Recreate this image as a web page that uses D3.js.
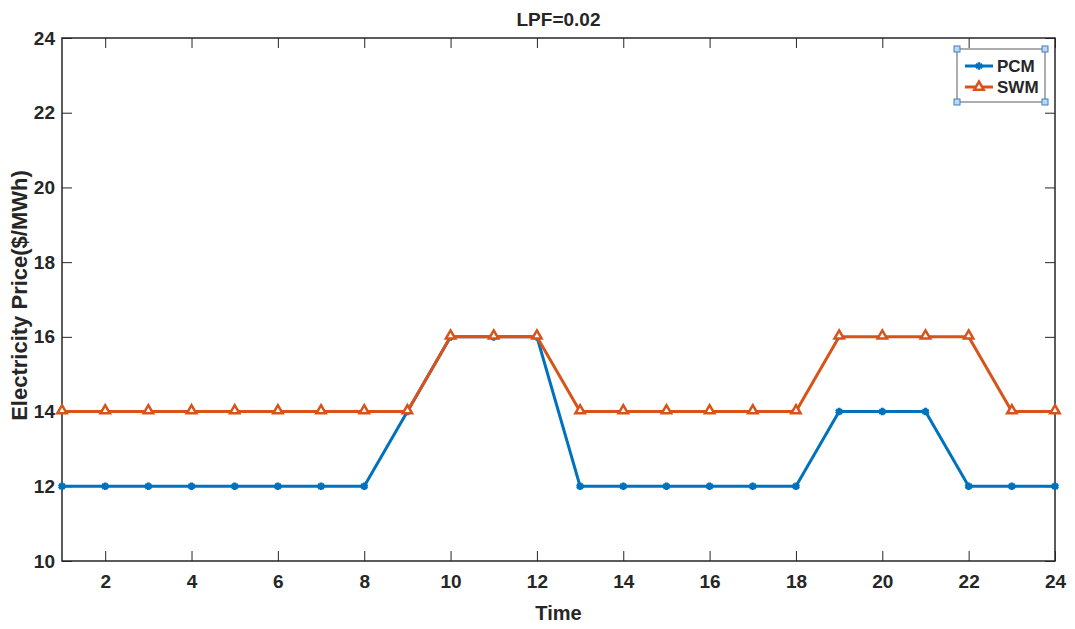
<!DOCTYPE html>
<html>
<head>
<meta charset="utf-8">
<script src="https://cdn.jsdelivr.net/npm/d3@7"></script>
<style>
  body { margin: 0; background: #fff; }
  text { font-family: "Liberation Sans", Arial, sans-serif; font-weight: bold; fill: #262626; }
</style>
</head>
<body>
<svg id="chart" width="1075" height="629"></svg>
<script>
// hours and prices
var hours = d3.range(1, 25);
var pcm = [12, 12, 12, 12, 12, 12, 12, 12, 14, 16, 16, 16, 12, 12, 12, 12, 12, 12, 14, 14, 14, 12, 12, 12];
var swm = [14, 14, 14, 14, 14, 14, 14, 14, 14, 16, 16, 16, 14, 14, 14, 14, 14, 14, 16, 16, 16, 16, 14, 14];
var xTicks = [2, 4, 6, 8, 10, 12, 14, 16, 18, 20, 22, 24];
var yTicks = [10, 12, 14, 16, 18, 20, 22, 24];

var svg = d3.select("#chart"),
    margin = {top: 38, right: 20, bottom: 68, left: 62},
    width = +svg.attr("width") - margin.left - margin.right,
    height = +svg.attr("height") - margin.top - margin.bottom;

var x = d3.scaleLinear().domain([1, 24]).range([0, width]),
    y = d3.scaleLinear().domain([10, 24]).range([height, 0]);

var g = svg.append("g")
    .attr("transform", "translate(" + margin.left + "," + margin.top + ")");

// axes with inward ticks, box style
function styleAxis(sel) {
  sel.select(".domain").remove();
  sel.selectAll(".tick line").attr("stroke", "#262626");
  sel.selectAll(".tick text").style("font-size", "19px").attr("fill", "#262626");
}

g.append("g")
    .attr("transform", "translate(0," + height + ")")
    .call(d3.axisBottom(x).tickValues(xTicks).tickSizeInner(-10).tickPadding(14).tickFormat(d3.format("d")))
    .call(styleAxis);

g.append("g")
    .call(d3.axisTop(x).tickValues(xTicks).tickSizeInner(-10).tickFormat(""))
    .call(styleAxis);

g.append("g")
    .call(d3.axisLeft(y).tickValues(yTicks).tickSizeInner(-10).tickPadding(7).tickFormat(d3.format("d")))
    .call(styleAxis);

g.append("g")
    .attr("transform", "translate(" + width + ",0)")
    .call(d3.axisRight(y).tickValues(yTicks).tickSizeInner(-10).tickFormat(""))
    .call(styleAxis);

g.append("rect")
    .attr("width", width)
    .attr("height", height)
    .attr("fill", "none")
    .attr("stroke", "#262626")
    .attr("stroke-width", 1.5);

var line = d3.line()
    .x(function(d, i) { return x(hours[i]); })
    .y(function(d) { return y(d); });

var blue = "#0072BD", orange = "#D95319";

// PCM line + star markers
g.append("path")
    .datum(pcm)
    .attr("d", line)
    .attr("fill", "none")
    .attr("stroke", blue)
    .attr("stroke-width", 3);

var star = d3.symbol().type(d3.symbolAsterisk).size(40);
g.selectAll(".pcm-pt")
  .data(pcm)
  .enter().append("path")
    .attr("class", "pcm-pt")
    .attr("transform", function(d, i) { return "translate(" + x(hours[i]) + "," + y(d) + ")"; })
    .attr("d", star)
    .attr("fill", "none")
    .attr("stroke", blue)
    .attr("stroke-width", 3);

// SWM line + triangle markers
g.append("path")
    .datum(swm)
    .attr("d", line)
    .attr("fill", "none")
    .attr("stroke", orange)
    .attr("stroke-width", 3);

var tri = d3.symbol().type(d3.symbolTriangle).size(38);
g.selectAll(".swm-pt")
  .data(swm)
  .enter().append("path")
    .attr("class", "swm-pt")
    .attr("transform", function(d, i) { return "translate(" + x(hours[i]) + "," + (y(d) - 1) + ")"; })
    .attr("d", tri)
    .attr("fill", "#fff")
    .attr("stroke", orange)
    .attr("stroke-width", 2.5);

// title and axis labels
svg.append("text")
    .attr("x", margin.left + width / 2)
    .attr("y", 26)
    .attr("text-anchor", "middle")
    .style("font-size", "19px")
    .text("LPF=0.02");

svg.append("text")
    .attr("x", margin.left + width / 2)
    .attr("y", 620)
    .attr("text-anchor", "middle")
    .style("font-size", "20px")
    .text("Time");

svg.append("text")
    .attr("transform", "translate(27," + (margin.top + height / 2 - 4) + ") rotate(-90)")
    .attr("text-anchor", "middle")
    .style("font-size", "22px")
    .text("Electricity Price($/MWh)");

// legend
var legend = svg.append("g").attr("transform", "translate(957,49)");
legend.append("rect")
    .attr("width", 88)
    .attr("height", 53)
    .attr("fill", "#fff")
    .attr("stroke", "#777")
    .attr("stroke-width", 1.2);

var items = [
  {name: "PCM", color: blue, sym: star, fill: "none"},
  {name: "SWM", color: orange, sym: tri, fill: "#fff"}
];
items.forEach(function(it, i) {
  var yy = 17 + i * 21;
  legend.append("line")
      .attr("x1", 8).attr("x2", 36)
      .attr("y1", yy).attr("y2", yy)
      .attr("stroke", it.color)
      .attr("stroke-width", 3);
  legend.append("path")
      .attr("transform", "translate(22," + yy + ")")
      .attr("d", it.sym)
      .attr("fill", it.fill)
      .attr("stroke", it.color)
      .attr("stroke-width", 2.5);
  legend.append("text")
      .attr("x", 40)
      .attr("y", yy + 6)
      .style("font-size", "17px")
      .attr("fill", "#000")
      .text(it.name);
});

// selection handles on legend corners
[[0, 0], [88, 0], [0, 53], [88, 53]].forEach(function(c) {
  legend.append("rect")
      .attr("x", c[0] - 3).attr("y", c[1] - 3)
      .attr("width", 6).attr("height", 6)
      .attr("fill", "#bcd7f0")
      .attr("stroke", "#3d7fc4")
      .attr("stroke-width", 1);
});
</script>
</body>
</html>
